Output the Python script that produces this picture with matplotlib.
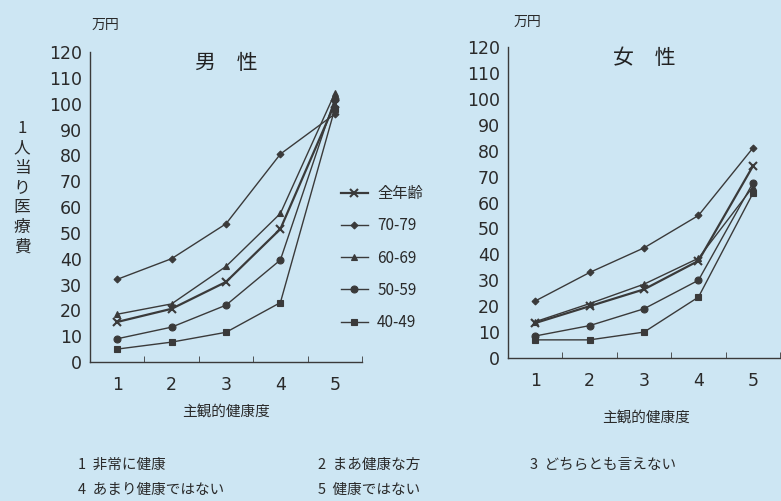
import matplotlib
matplotlib.use("Agg")
import matplotlib.pyplot as plt

plt.rcParams['font.family'] = ['Noto Sans CJK JP', 'DejaVu Sans']

categories = [1, 2, 3, 4, 5]
series_names = ["全年齢", "70-79", "60-69", "50-59", "40-49"]

male_all = [15.5, 20.6, 31, 51.5, 100]
male_70 = [32, 40, 53.5, 80.5, 96]
male_60 = [18.5, 22.5, 37, 57.5, 104]
male_50 = [9, 13.5, 22, 39.5, 102]
male_40 = [5, 7.7, 11.5, 23, 98]

female_all = [13.5, 20, 26.5, 37.5, 74]
female_70 = [22, 33, 42.5, 55, 81]
female_60 = [14, 21, 28.5, 38.5, 66]
female_50 = [8.5, 12.5, 19, 30, 67.5]
female_40 = [7, 7, 10, 23.5, 63.5]

y_ticks = list(range(0, 121, 10))
footnotes = [["1  非常に健康", "2  まあ健康な方", "3  どちらとも言えない"],
             ["4  あまり健康ではない", "5  健康ではない"]]

bg = "#cde6f3"
lc = "#3a3a3a"
styles = {
    "全年齢": dict(marker="x", ms=6, mew=1.5, lw=1.6),
    "70-79": dict(marker="D", ms=3.5, mew=0.8, lw=1.0),
    "60-69": dict(marker="^", ms=4.5, mew=0.8, lw=1.0),
    "50-59": dict(marker="o", ms=5, mew=0.8, lw=1.0),
    "40-49": dict(marker="s", ms=5, mew=0.8, lw=1.0),
}

fig = plt.figure(figsize=(7.81, 5.01), dpi=100)
fig.patch.set_facecolor(bg)

def setup(ax, title):
    ax.set_facecolor(bg)
    ax.set_xlim(0.5, 5.5)
    ax.set_ylim(0, 120)
    for s in ["top", "right"]:
        ax.spines[s].set_visible(False)
    for s in ["left", "bottom"]:
        ax.spines[s].set_color(lc)
        ax.spines[s].set_linewidth(1.0)
    ax.set_yticks(y_ticks)
    ax.set_yticklabels([str(v) for v in y_ticks], family="DejaVu Sans", fontsize=12.5, color="#2a2a2a")
    ax.tick_params(axis="y", length=0, pad=6)
    ax.set_xticks(categories)
    ax.set_xticklabels([str(c) for c in categories], family="DejaVu Sans", fontsize=12.5, color="#2a2a2a")
    ax.tick_params(axis="x", which="major", length=0, pad=10)
    ax.set_xticks([1.5, 2.5, 3.5, 4.5, 5.5], minor=True)
    ax.tick_params(axis="x", which="minor", direction="in", length=4, color=lc)
    ax.text(0.5, 0.965, title, transform=ax.transAxes, ha="center", va="center",
            fontsize=15, color="#222222")

axL = fig.add_axes([0.1152, 0.2774, 0.3483, 0.6188])
axR = fig.add_axes([0.6505, 0.2854, 0.3483, 0.6208])
setup(axL, "男　性")
setup(axR, "女　性")

male = [male_all, male_70, male_60, male_50, male_40]
female = [female_all, female_70, female_60, female_50, female_40]
handles = []
for name, m, f in zip(series_names, male, female):
    st = styles[name]
    h, = axL.plot(categories, m, color=lc, mfc=lc, mec=lc, clip_on=False, **st)
    axR.plot(categories, f, color=lc, mfc=lc, mec=lc, clip_on=False, **st)
    handles.append(h)

fig.legend(handles, series_names, loc="upper left", bbox_to_anchor=(0.436, 1 - 185 / 501),
           frameon=False, fontsize=11, labelspacing=1.0, handlelength=1.8,
           handletextpad=0.6, borderpad=0, borderaxespad=0, labelcolor="#2a2a2a")

fig.text(105 / 781, 1 - 25 / 501, "万円", ha="center", va="center", fontsize=10, color="#2a2a2a")
fig.text(527 / 781, 1 - 22 / 501, "万円", ha="center", va="center", fontsize=10, color="#2a2a2a")

fig.text(22 / 781, 1 - 188 / 501, "\n".join("1人当り医療費"), ha="center", va="center",
         fontsize=12, color="#2a2a2a", linespacing=1.22)

fig.text(226 / 781, 1 - 412 / 501, "主観的健康度", ha="center", va="center", fontsize=10.5, color="#2a2a2a")
fig.text(646 / 781, 1 - 418 / 501, "主観的健康度", ha="center", va="center", fontsize=10.5, color="#2a2a2a")

xs = [78 / 781, 318 / 781, 530 / 781]
ys = [1 - 465 / 501, 1 - 490 / 501]
for row, y in zip(footnotes, ys):
    for t, x in zip(row, xs):
        fig.text(x, y, t, ha="left", va="center", fontsize=10.5, color="#2a2a2a")

fig.savefig("out.png", dpi=100, facecolor=bg)
